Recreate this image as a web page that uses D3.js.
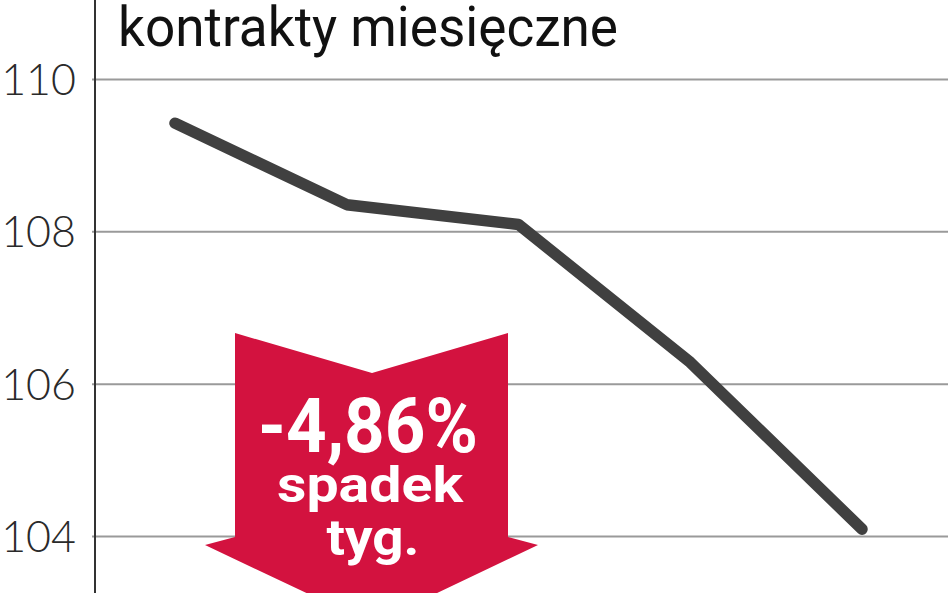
<!DOCTYPE html>
<html>
<head>
<meta charset="utf-8">
<script src="https://cdn.jsdelivr.net/npm/d3@7"></script>
<style>
  html, body { margin: 0; padding: 0; background: #fff; overflow: hidden; }
  svg { display: block; }
</style>
</head>
<body>
<svg id="chart" width="948" height="593"></svg>
<script>
// ---- data ----
const days = ["pon", "wt", "śr", "czw", "pt"];
const values = [109.42, 108.35, 108.09, 106.28, 104.09];
const yTicks = [104, 106, 108, 110];
const titleText = "kontrakty miesięczne";
const badgeLines = ["-4,86%", "spadek", "tyg."];

// ---- layout ----
const W = 948, H = 593;
const svg = d3.select("#chart");

const x = d3.scalePoint().domain(days).range([175, 862]);
const y = d3.scaleLinear().domain([104, 110]).range([536, 79]);

// grid lines via axis
const grid = svg.append("g")
  .attr("transform", "translate(92,0)")
  .call(d3.axisRight(y).tickValues(yTicks).tickSize(W - 92).tickFormat(""));
grid.select(".domain").remove();
grid.selectAll(".tick line").attr("stroke", "#9a9a9a").attr("stroke-width", 2);

// y labels
const yAxis = svg.append("g")
  .attr("transform", "translate(76,0)")
  .call(d3.axisLeft(y).tickValues(yTicks).tickSize(0).tickPadding(0).tickFormat(d3.format("d")));
yAxis.select(".domain").remove();
yAxis.selectAll(".tick text")
  .attr("font-family", "Lato, 'Open Sans', sans-serif")
  .attr("font-weight", 300)
  .attr("font-size", 43)
  .attr("fill", "#2a2a2a")
  .attr("dy", "0.36em");

// vertical axis line
svg.append("line")
  .attr("x1", 95).attr("x2", 95)
  .attr("y1", 0).attr("y2", H)
  .attr("stroke", "#333").attr("stroke-width", 2);

// title
svg.append("text")
  .attr("x", 118).attr("y", 46)
  .attr("font-family", "Roboto, 'Noto Sans', sans-serif")
  .attr("font-size", 55)
  .attr("fill", "#111")
  .attr("textLength", 500)
  .attr("lengthAdjust", "spacingAndGlyphs")
  .text(titleText);

// arrow badge (annotation)
const arrow = [
  [235, 333], [372, 373], [508, 333], [508, 537], [538, 545],
  [372, 624], [205, 545], [235, 537]
];
svg.append("path")
  .attr("d", d3.line()(arrow) + "Z")
  .attr("fill", "#d3123f");

const badgeStyle = [
  { y: 452, size: 76, len: 220, cx: 368 },
  { y: 502, size: 50, len: 186, cx: 370 },
  { y: 555, size: 50, len: 93, cx: 373 }
];
badgeLines.forEach((t, i) => {
  const s = badgeStyle[i];
  svg.append("text")
    .attr("x", s.cx - s.len / 2).attr("y", s.y)
    .attr("font-family", "Roboto, 'Noto Sans', sans-serif")
    .attr("font-weight", 700)
    .attr("font-size", s.size)
    .attr("fill", "#fff")
    .attr("textLength", s.len)
    .attr("lengthAdjust", "spacingAndGlyphs")
    .text(t);
});

// data line
const line = d3.line()
  .x((d, i) => x(days[i]))
  .y(d => y(d));
svg.append("path")
  .datum(values)
  .attr("d", line)
  .attr("fill", "none")
  .attr("stroke", "#404040")
  .attr("stroke-width", 11.5)
  .attr("stroke-linecap", "round")
  .attr("stroke-linejoin", "round");
</script>
</body>
</html>
